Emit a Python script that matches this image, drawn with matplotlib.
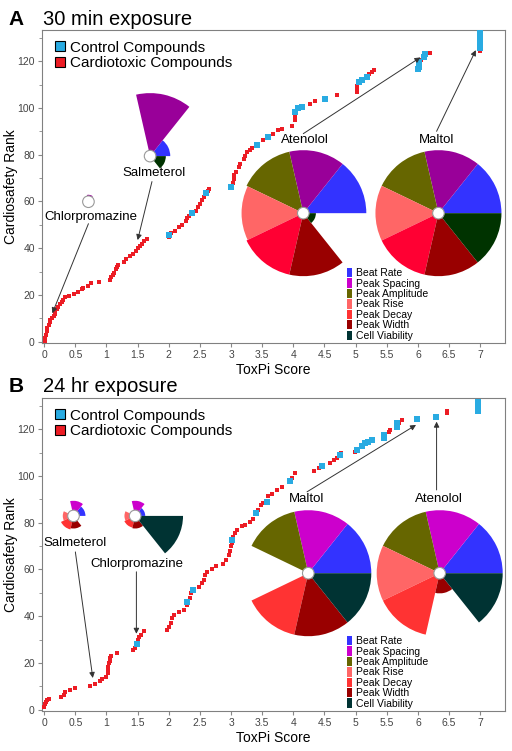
import numpy as np
import matplotlib.pyplot as plt
from matplotlib.patches import Wedge, Circle, Patch
from matplotlib.lines import Line2D
from matplotlib.transforms import ScaledTranslation

plt.rcParams['font.family'] = ['Liberation Sans', 'DejaVu Sans']

# ---- data ----
slices = ['Beat Rate', 'Peak Spacing', 'Peak Amplitude', 'Peak Rise',
          'Peak Decay', 'Peak Width', 'Cell Viability']
colors_a = ['#3333ff', '#990099', '#666600', '#ff6666', '#ff0033', '#990000', '#003300']
colors_b = ['#3333ff', '#cc00cc', '#666600', '#ff6666', '#ff3333', '#990000', '#003333']

# panel A (30 min)
a_red_x = [0.01, 0.02, 0.03, 0.04, 0.05, 0.07, 0.09, 0.1, 0.12, 0.15, 0.17, 0.18, 0.2, 0.22,
           0.25, 0.28, 0.3, 0.33, 0.4, 0.48, 0.55, 0.6, 0.63, 0.7, 0.75, 0.88, 1.05, 1.07,
           1.1, 1.12, 1.15, 1.17, 1.19, 1.28, 1.32, 1.37, 1.42, 1.48, 1.5, 1.53, 1.57, 1.6,
           1.65, 2.0, 2.03, 2.1, 2.17, 2.22, 2.27, 2.3, 2.33, 2.43, 2.47, 2.5, 2.53, 2.57,
           2.63, 2.65, 3.03, 3.04, 3.05, 3.08, 3.12, 3.15, 3.2, 3.22, 3.26, 3.3, 3.33, 3.52,
           3.68, 3.76, 3.81, 3.98, 4.03, 4.03, 4.27, 4.35, 4.7, 5.02, 5.03, 5.03, 5.22, 5.26,
           5.29, 6.05, 6.2, 6.99, 6.99]
a_red_y = [0.5, 1.5, 3, 4.5, 6, 7, 8.5, 9.5, 10, 11, 12, 13, 14, 15,
           16, 17, 18, 19, 19.5, 20.5, 21.5, 22.5, 23, 24, 25, 25.5, 26.5, 27.5,
           28.5, 29.5, 31, 32, 33, 34, 35.5, 36.5, 37.5, 39, 40, 41, 42, 43,
           44, 45, 46.5, 47.5, 49, 50, 51.5, 53, 54, 56, 57.5, 59, 60.5, 62,
           64.5, 65.5, 68, 69.5, 71.3, 72.5, 74.8, 76, 78, 79.5, 81, 82, 83, 86.2,
           89, 90.5, 91.2, 92.2, 95, 96.2, 101.5, 102.9, 105.5, 106.9, 108, 109.5, 114.7, 115.5,
           116.2, 120.4, 123.5, 127.8, 124.3]
a_cyan_x = [2.0, 2.38, 2.6, 3.0, 3.42, 3.6, 4.03, 4.08, 4.14, 4.51, 5.06, 5.1, 5.18,
            6.0, 6.01, 6.02, 6.09, 6.12, 6.99, 6.99, 6.99, 6.99, 6.99, 6.99]
a_cyan_y = [45.5, 55, 63.5, 66, 84, 87.4, 98.3, 99.8, 100.5, 104, 111.2, 112, 113.3,
            116.5, 117.6, 119.7, 121.8, 122.9, 125.5, 126.5, 129, 130, 131, 132]

# panel B (24 hr)
b_red_x = [0.0, 0.02, 0.03, 0.05, 0.08, 0.27, 0.31, 0.34, 0.42, 0.5, 0.74, 0.82, 0.9, 0.93,
           1.0, 1.02, 1.02, 1.03, 1.04, 1.05, 1.06, 1.08, 1.17, 1.43, 1.46, 1.5, 1.52, 1.55,
           1.61, 1.97, 2.0, 2.03, 2.05, 2.08, 2.16, 2.24, 2.29, 2.34, 2.36, 2.49, 2.53, 2.56,
           2.58, 2.61, 2.69, 2.76, 2.87, 2.92, 2.96, 2.98, 3.0, 3.02, 3.03, 3.06, 3.09, 3.17,
           3.23, 3.31, 3.36, 3.44, 3.48, 3.52, 3.6, 3.66, 3.74, 3.81, 3.94, 3.98, 4.03, 4.33,
           4.42, 4.59, 4.65, 4.7, 4.77, 4.99, 5.53, 5.56, 5.69, 5.74, 6.47, 6.47]
b_red_y = [1.4, 2.5, 3.2, 4, 4.5, 5.4, 6.3, 7.4, 8.3, 9.3, 10.3, 11.1, 12.3, 13.3,
           14.2, 15.7, 17, 18.5, 20, 21, 22, 23.2, 24.2, 25.4, 26.5, 30, 31, 32,
           33.5, 34.2, 35.6, 37, 39.2, 40.6, 42, 42.7, 44.9, 47.7, 49.9, 52.7, 54.1, 55.6,
           57.7, 59.1, 60, 61.6, 62.5, 64, 66, 68, 70, 71.5, 74, 75.5, 76.9, 78.4,
           79.1, 80.5, 81.5, 85.5, 87.6, 88.6, 91.2, 92.3, 93.8, 95.1, 97.6, 99, 101.2, 102.3,
           103.3, 105.7, 106.9, 107.6, 109.7, 110.4, 118.7, 119.6, 122.8, 123.7, 126.8, 127.6]
b_cyan_x = [1.49, 2.3, 2.39, 3.01, 3.4, 3.57, 3.95, 4.46, 4.75, 5.03, 5.1, 5.15, 5.2, 5.26,
            5.45, 5.46, 5.66, 5.66, 5.98, 6.29, 6.97, 6.97, 6.97, 6.97]
b_cyan_y = [28.2, 46.3, 51.3, 72.7, 84.1, 89, 98, 104.3, 109, 111.1, 112.6, 114, 114.7, 115.4,
            116.1, 117.5, 121.1, 122.5, 124.3, 125.4, 127.8, 129, 130.2, 131.5]

# pies: name, centre (score, rank), slice radii as fraction of full size
a_pies = [('Salmeterol', (1.70, 79.4), [0.32, 1.0, 0, 0, 0, 0, 0.25]),
          ('Chlorpromazine', (0.71, 59.9), [0, 0.11, 0, 0, 0, 0, 0]),
          ('Atenolol', (4.16, 55.0), [1, 1, 1, 0.98, 1, 1, 0.2]),
          ('Maltol', (6.33, 55.0), [1, 1, 1, 1, 1, 1, 1])]
b_pies = [('Salmeterol', (0.47, 82.9), [0.19, 0.24, 0, 0.17, 0.22, 0.2, 0]),
          ('Chlorpromazine', (1.46, 82.9), [0.16, 0.24, 0, 0.17, 0.19, 0.2, 0.76]),
          ('Maltol', (4.24, 58.4), [1, 1, 1, 0, 1, 1, 1]),
          ('Atenolol', (6.35, 58.4), [1, 1, 1, 1, 1, 0.32, 1])]

# labels: text, text position, arrow start, arrow tip
a_notes = [('Chlorpromazine', (0.75, 53.4), (0.71, 50.5), (0.13, 12.2)),
           ('Salmeterol', (1.76, 72.0), (1.73, 68.5), (1.5, 43.5)),
           ('Atenolol', (4.19, 86.2), (4.16, 89.0), (6.04, 121.6)),
           ('Maltol', (6.3, 86.2), (6.3, 90.0), (6.93, 124.7))]
b_notes = [('Salmeterol', (0.5, 71.5), (0.5, 67.5), (0.78, 13.6)),
           ('Chlorpromazine', (1.49, 62.4), (1.48, 59.0), (1.48, 32.5)),
           ('Maltol', (4.22, 90.2), (4.22, 93.2), (5.97, 121.8)),
           ('Atenolol', (6.33, 90.2), (6.3, 94.0), (6.3, 123.2))]

full_r = 0.63  # inches


def panel(ax, red_x, red_y, cyan_x, cyan_y, pies, notes, cols):
    ax.scatter(red_x, red_y, marker='s', s=12, color='#ec1c24', lw=0, zorder=3)
    ax.scatter(cyan_x, cyan_y, marker='s', s=14, color='#29abe2', lw=0, zorder=3)
    for name, (cx, cy), radii in pies:
        tr = fig.dpi_scale_trans + ScaledTranslation(cx, cy, ax.transData)
        for i, r in enumerate(radii):
            if r > 0:
                w = Wedge((0, 0), r * full_r, i * 360 / 7, (i + 1) * 360 / 7,
                          facecolor=cols[i], edgecolor='none', transform=tr, zorder=2)
                ax.add_patch(w)
        ax.add_patch(Circle((0, 0), 0.058, facecolor='white', edgecolor='#999999',
                            lw=0.8, transform=tr, zorder=2.5))
    for name, tpos, start, tip in notes:
        ax.text(tpos[0], tpos[1], name, fontsize=9.5, ha='center', va='center', zorder=4)
        ax.annotate('', xy=tip, xytext=start,
                    arrowprops=dict(arrowstyle='-|>', color='#333333', lw=0.7,
                                    mutation_scale=8, shrinkA=0, shrinkB=0), zorder=4)
    ax.set_xlim(-0.04, 7.4)
    ax.set_ylim(-0.5, 133.3)
    ax.set_xticks(np.arange(0, 7.01, 0.5))
    ax.set_xticklabels(['0', '0.5', '1', '1.5', '2', '2.5', '3', '3.5', '4', '4.5',
                        '5', '5.5', '6', '6.5', '7'])
    ax.set_yticks(np.arange(0, 121, 20))
    ax.set_yticks(np.arange(10, 131, 20), minor=True)
    ax.tick_params(labelsize=7.5, labelcolor='#444444', color='#888888', length=3, pad=2)
    ax.tick_params(which='minor', color='#888888', length=2)
    for s in ax.spines.values():
        s.set_color('#808080')
    ax.set_xlabel('ToxPi Score', fontsize=10, labelpad=2)
    ax.set_ylabel('Cardiosafety Rank', fontsize=10)
    ax.yaxis.set_label_coords(-0.051, 0.5)
    h1 = [Line2D([], [], marker='s', ls='none', markersize=6.5, markerfacecolor=c,
                 markeredgecolor='black', markeredgewidth=0.8) for c in ['#29abe2', '#ec1c24']]
    leg1 = ax.legend(h1, ['Control Compounds', 'Cardiotoxic Compounds'], loc='upper left',
                     bbox_to_anchor=(0.005, 1.0), frameon=False, fontsize=11,
                     handlelength=0.7, handletextpad=0.3, labelspacing=0.1,
                     borderaxespad=0.3)
    ax.add_artist(leg1)
    h2 = [Patch(facecolor=c) for c in colors_b]
    ax.legend(h2, slices, loc='upper left', bbox_to_anchor=(0.659, 0.24), frameon=False,
              fontsize=7.5, handlelength=0.5, handleheight=1.0, handletextpad=0.35,
              labelspacing=0.02, borderaxespad=0, borderpad=0)


fig = plt.figure(figsize=(5.12, 7.51), dpi=100)
ax1 = fig.add_axes([0.0815, 0.5433, 0.905, 0.4167])
ax2 = fig.add_axes([0.0815, 0.0533, 0.905, 0.4167])

panel(ax1, a_red_x, a_red_y, a_cyan_x, a_cyan_y, a_pies, a_notes, colors_a)
panel(ax2, b_red_x, b_red_y, b_cyan_x, b_cyan_y, b_pies, b_notes, colors_b)

fig.text(0.016, 0.9667, 'A', fontsize=15, fontweight='bold', va='baseline')
fig.text(0.084, 0.9667, '30 min exposure', fontsize=14.5, va='baseline')
fig.text(0.016, 0.4784, 'B', fontsize=15, fontweight='bold', va='baseline')
fig.text(0.084, 0.4784, '24 hr exposure', fontsize=14.5, va='baseline')

fig.savefig('out.png', dpi=100)
